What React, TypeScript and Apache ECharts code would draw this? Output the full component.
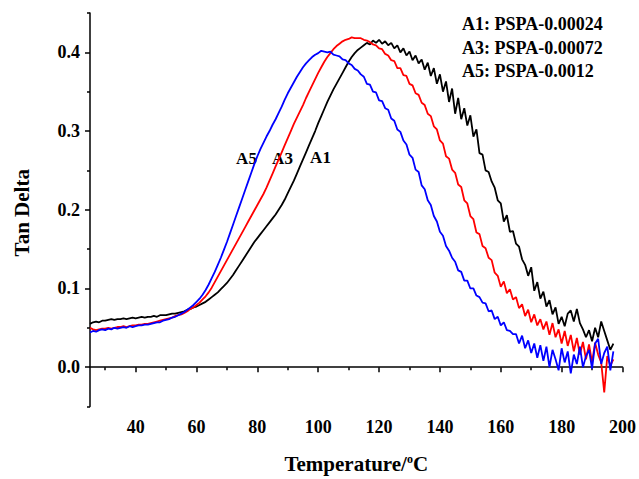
import React, { useEffect, useRef } from "react";
import * as echarts from "echarts";

// Temperature grid: 25 .. 197 °C, 1 °C steps
const tStart = 25;

// A1: PSPA-0.00024 (black)
const a1 = [
  0.055, 0.057, 0.058, 0.057, 0.059, 0.059, 0.060, 0.061, 0.060, 0.061,
  0.061, 0.062, 0.061, 0.062, 0.063, 0.062, 0.063, 0.064, 0.063, 0.064,
  0.064, 0.065, 0.064, 0.066, 0.066, 0.066, 0.067, 0.068, 0.068, 0.069,
  0.070, 0.071, 0.073, 0.074, 0.076, 0.077, 0.079, 0.081, 0.083, 0.086,
  0.089, 0.092, 0.095, 0.099, 0.103, 0.107, 0.112, 0.117, 0.123, 0.129,
  0.135, 0.141, 0.147, 0.153, 0.159, 0.164, 0.169, 0.174, 0.179, 0.184,
  0.189, 0.194, 0.200, 0.206, 0.213, 0.221, 0.229, 0.237, 0.246, 0.255,
  0.264, 0.273, 0.282, 0.291, 0.300, 0.310, 0.319, 0.328, 0.337, 0.345,
  0.353, 0.360, 0.367, 0.374, 0.381, 0.388, 0.394, 0.399, 0.403, 0.406,
  0.409, 0.412, 0.410, 0.415, 0.412, 0.416, 0.411, 0.414, 0.409, 0.412,
  0.405, 0.409, 0.400, 0.405, 0.396, 0.401, 0.390, 0.396, 0.386, 0.391,
  0.378, 0.387, 0.370, 0.380, 0.360, 0.372, 0.350, 0.363, 0.337, 0.354,
  0.322, 0.342, 0.315, 0.329, 0.307, 0.320, 0.293, 0.302, 0.272, 0.270,
  0.250, 0.248, 0.236, 0.228, 0.212, 0.208, 0.185, 0.193, 0.172, 0.173,
  0.157, 0.153, 0.137, 0.130, 0.116, 0.127, 0.097, 0.108, 0.087, 0.096,
  0.077, 0.085, 0.067, 0.076, 0.055, 0.064, 0.052, 0.068, 0.072, 0.058,
  0.074, 0.056, 0.048, 0.038, 0.047, 0.033, 0.050, 0.038, 0.058, 0.046,
  0.034, 0.022, 0.030,
];

// A3: PSPA-0.00072 (red)
const a3 = [
  0.050, 0.048, 0.047, 0.048, 0.049, 0.049, 0.050, 0.049, 0.050, 0.051,
  0.051, 0.052, 0.051, 0.052, 0.053, 0.053, 0.054, 0.054, 0.055, 0.055,
  0.056, 0.057, 0.058, 0.059, 0.060, 0.061, 0.062, 0.063, 0.065, 0.066,
  0.067, 0.069, 0.071, 0.074, 0.076, 0.079, 0.082, 0.086, 0.090, 0.095,
  0.101, 0.108, 0.115, 0.122, 0.129, 0.136, 0.143, 0.150, 0.157, 0.164,
  0.171, 0.178, 0.185, 0.192, 0.199, 0.206, 0.213, 0.220, 0.228, 0.237,
  0.246, 0.255, 0.264, 0.273, 0.282, 0.291, 0.300, 0.309, 0.317, 0.325,
  0.333, 0.342, 0.350, 0.358, 0.366, 0.374, 0.381, 0.388, 0.394, 0.399,
  0.404, 0.408, 0.411, 0.414, 0.416, 0.417, 0.419, 0.418, 0.418, 0.418,
  0.416, 0.415, 0.413, 0.410, 0.409, 0.405, 0.404, 0.398, 0.396, 0.390,
  0.389, 0.380, 0.380, 0.371, 0.370, 0.360, 0.358, 0.348, 0.346, 0.336,
  0.333, 0.322, 0.319, 0.306, 0.302, 0.288, 0.284, 0.268, 0.265, 0.251,
  0.247, 0.232, 0.229, 0.212, 0.208, 0.192, 0.188, 0.171, 0.169, 0.154,
  0.151, 0.139, 0.136, 0.120, 0.116, 0.102, 0.109, 0.094, 0.099, 0.086,
  0.089, 0.075, 0.080, 0.065, 0.073, 0.057, 0.067, 0.053, 0.061, 0.048,
  0.058, 0.041, 0.056, 0.038, 0.048, 0.030, 0.046, 0.027, 0.041, 0.020,
  0.037, 0.016, 0.032, 0.010, 0.029, 0.006, 0.031, 0.016, 0.006, -0.032,
  0.014, 0.002, 0.010,
];

// A5: PSPA-0.0012 (blue)
const a5 = [
  0.044, 0.046, 0.045, 0.047, 0.048, 0.047, 0.049, 0.048, 0.050, 0.049,
  0.050, 0.051, 0.050, 0.052, 0.051, 0.052, 0.053, 0.053, 0.054, 0.054,
  0.055, 0.056, 0.057, 0.057, 0.059, 0.060, 0.061, 0.063, 0.064, 0.066,
  0.068, 0.070, 0.073, 0.076, 0.079, 0.083, 0.087, 0.092, 0.098, 0.105,
  0.113, 0.121, 0.130, 0.139, 0.149, 0.159, 0.170, 0.181, 0.192, 0.203,
  0.214, 0.225, 0.236, 0.247, 0.258, 0.268, 0.277, 0.285, 0.293, 0.300,
  0.308, 0.315, 0.323, 0.331, 0.340, 0.348, 0.355, 0.362, 0.369, 0.375,
  0.381, 0.386, 0.390, 0.394, 0.397, 0.399, 0.402, 0.401, 0.400, 0.401,
  0.397, 0.396, 0.395, 0.391, 0.390, 0.386, 0.384, 0.379, 0.377, 0.372,
  0.369, 0.360, 0.359, 0.350, 0.349, 0.339, 0.338, 0.329, 0.327, 0.316,
  0.313, 0.302, 0.299, 0.288, 0.283, 0.270, 0.266, 0.251, 0.248, 0.231,
  0.226, 0.212, 0.206, 0.192, 0.185, 0.172, 0.167, 0.154, 0.148, 0.139,
  0.134, 0.123, 0.121, 0.110, 0.110, 0.100, 0.100, 0.091, 0.089, 0.082,
  0.081, 0.071, 0.072, 0.061, 0.064, 0.053, 0.057, 0.047, 0.046, 0.042,
  0.042, 0.030, 0.040, 0.024, 0.034, 0.018, 0.030, 0.012, 0.028, 0.008,
  0.026, 0.000, 0.022, 0.010, -0.004, 0.024, 0.006, 0.020, -0.008, 0.016,
  0.004, 0.026, 0.000, 0.014, 0.022, -0.002, 0.030, 0.036, 0.004, 0.018,
  0.026, -0.004, 0.020,
];

const xMajorTicks = [40, 60, 80, 100, 120, 140, 160, 180, 200];
const xMinorTicks = [30, 50, 70, 90, 110, 130, 150, 170, 190];
const yMajorTicks = [0, 0.1, 0.2, 0.3, 0.4];
const yMinorTicks = [-0.05, 0.05, 0.15, 0.25, 0.35, 0.45];

const legendLines = ["A1: PSPA-0.00024", "A3: PSPA-0.00072", "A5: PSPA-0.0012"];
const curveLabels = ["A5", "A3", "A1"];

const FONT = '"Liberation Serif", "Times New Roman", serif';

export default function App() {
  const ref = useRef<HTMLDivElement>(null);

  useEffect(() => {
    if (!ref.current) return;
    const chart = echarts.init(ref.current, null, { renderer: "svg" });
    const toPairs = (arr: number[]) => arr.map((v, i) => [tStart + i, v]);
    const labelStyle = {
      color: "#000",
      fontFamily: FONT,
      fontWeight: "bold" as const,
      fontSize: 18,
    };
    const axisLine = { show: true, lineStyle: { color: "#000", width: 1.5 } };

    chart.setOption({
      animation: false,
      backgroundColor: "#fff",
      grid: { left: 90, right: 15, top: 13, bottom: 70, containLabel: false },
      xAxis: [
        {
          type: "value",
          min: 25,
          max: 200,
          position: "bottom",
          axisLine,
          splitLine: { show: false },
          axisTick: {
            show: true,
            inside: false,
            length: 5,
            customValues: xMajorTicks,
            lineStyle: { color: "#000", width: 1.5 },
          },
          axisLabel: {
            ...labelStyle,
            margin: 11,
            customValues: xMajorTicks,
          },
          name: "{a|Temperature/}{sup|o}{a|C}",
          nameLocation: "middle",
          nameGap: 46,
          nameTextStyle: {
            rich: {
              a: { fontFamily: FONT, fontWeight: "bold", fontSize: 21, color: "#000", lineHeight: 22 },
              sup: { fontFamily: FONT, fontWeight: "bold", fontSize: 12, color: "#000", verticalAlign: "top", lineHeight: 22, padding: [0, 0, 8, 0] },
            },
          },
        },
        {
          type: "value",
          min: 25,
          max: 200,
          position: "bottom",
          axisLine: { show: false },
          splitLine: { show: false },
          axisTick: {
            show: true,
            inside: false,
            length: 3,
            customValues: xMinorTicks,
            lineStyle: { color: "#000", width: 1.5 },
          },
          axisLabel: { show: false },
        },
      ],
      yAxis: [
        {
          type: "value",
          min: -0.05,
          max: 0.45,
          position: "left",
          axisLine,
          splitLine: { show: false },
          axisTick: {
            show: true,
            inside: false,
            length: 5,
            customValues: yMajorTicks,
            lineStyle: { color: "#000", width: 1.5 },
          },
          axisLabel: {
            ...labelStyle,
            margin: 10,
            customValues: yMajorTicks,
            formatter: (v: number) => v.toFixed(1),
          },
          name: "Tan Delta",
          nameLocation: "middle",
          nameGap: 58,
          nameTextStyle: {
            fontFamily: FONT,
            fontWeight: "bold",
            fontSize: 21,
            color: "#000",
            padding: [0, 6, 0, 0],
          },
        },
        {
          type: "value",
          min: -0.05,
          max: 0.45,
          position: "left",
          axisLine: { show: false },
          splitLine: { show: false },
          axisTick: {
            show: true,
            inside: false,
            length: 3,
            customValues: yMinorTicks,
            lineStyle: { color: "#000", width: 1.5 },
          },
          axisLabel: { show: false },
        },
      ],
      series: [
        {
          name: "A1",
          type: "line",
          data: toPairs(a1),
          showSymbol: false,
          lineStyle: { color: "#000000", width: 1.8 },
          itemStyle: { color: "#000000" },
        },
        {
          name: "A3",
          type: "line",
          data: toPairs(a3),
          showSymbol: false,
          lineStyle: { color: "#ff0000", width: 1.8 },
          itemStyle: { color: "#ff0000" },
        },
        {
          name: "A5",
          type: "line",
          data: toPairs(a5),
          showSymbol: false,
          lineStyle: { color: "#0000ff", width: 1.8 },
          itemStyle: { color: "#0000ff" },
        },
      ],
      graphic: [
        ...legendLines.map((t, i) => ({
          type: "text",
          left: 462,
          top: 15 + i * 23.5,
          style: {
            text: t,
            fill: "#000",
            font: `bold 18px ${FONT}`,
          },
        })),
        {
          type: "text",
          x: 246.5,
          y: 158,
          style: { text: curveLabels[0], fill: "#000", font: `bold 17px ${FONT}`, align: "center", verticalAlign: "middle" },
        },
        {
          type: "text",
          x: 282.5,
          y: 158,
          style: { text: curveLabels[1], fill: "#000", font: `bold 17px ${FONT}`, align: "center", verticalAlign: "middle" },
        },
        {
          type: "text",
          x: 320.5,
          y: 157,
          style: { text: curveLabels[2], fill: "#000", font: `bold 17px ${FONT}`, align: "center", verticalAlign: "middle" },
        },
      ],
    });

    return () => chart.dispose();
  }, []);

  return (
    <div
      ref={ref}
      style={{ position: "absolute", left: 0, top: 0, width: 639, height: 479 }}
    />
  );
}
